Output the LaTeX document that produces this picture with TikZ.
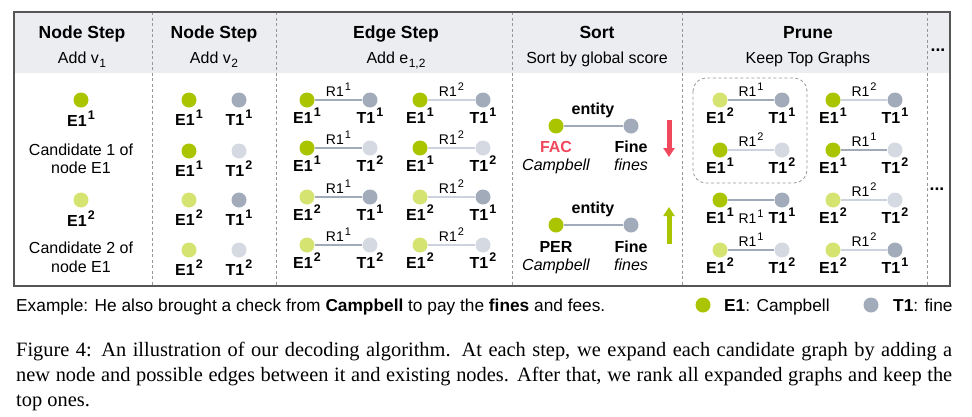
\documentclass[tikz,border=0pt]{standalone}
\usepackage{fontspec}
\setmainfont{Liberation Sans}
\newfontfamily\capfont{Liberation Serif}
\usetikzlibrary{arrows.meta}
\definecolor{cEa}{RGB}{170,196,0}
\definecolor{cEb}{RGB}{213,227,112}
\definecolor{cTa}{RGB}{162,171,185}
\definecolor{cTb}{RGB}{212,217,226}
\definecolor{cRa}{RGB}{160,170,184}
\definecolor{cRb}{RGB}{204,211,222}
\definecolor{cHead}{RGB}{236,237,241}
\definecolor{cRed}{RGB}{240,72,92}
\definecolor{cFrame}{RGB}{85,85,85}
\definecolor{cSep}{RGB}{150,150,150}
\newcommand\supx[1]{\kern1.2pt\raisebox{6.5pt}{\fontsize{12.5}{12.5}\selectfont #1}}
\newcommand\supr[1]{\kern1pt\raisebox{6pt}{\fontsize{11}{11}\selectfont #1}}
\newcommand\subx[1]{\kern0.5pt\raisebox{-4pt}{\fontsize{12}{12}\selectfont #1}}
\newcommand\gph[8]{%
  \node[dE#5] (#1e) at (#2,#4) {};
  \node[dT#6] (#1t) at (#3,#4) {};
  \draw[ln#7] (#1e) -- (#1t);
  \node[nlbl] (#1el) at (#2,#4+23) {E1\supx{#5}};
  \node[nlbl] (#1tl) at (#3,#4+23) {T1\supx{#6}};
  \node[rlbl] (#1r) at ({(#2+#3)/2},{#4#8}) {R1\supr{#7}};
}
\begin{document}
\begin{tikzpicture}[x=1pt,y=-1pt,
  dot/.style={circle,inner sep=0pt,minimum size=15pt},
  dE1/.style={dot,fill=cEa}, dE2/.style={dot,fill=cEb},
  dT1/.style={dot,fill=cTa}, dT2/.style={dot,fill=cTb},
  ln1/.style={draw=cRa,line width=2.2pt},
  ln2/.style={draw=cRb,line width=2.2pt},
  nlbl/.style={font=\bfseries\fontsize{16}{16}\selectfont,anchor=base,inner sep=0pt},
  rlbl/.style={font=\fontsize{14}{14}\selectfont,anchor=base,inner sep=0pt},
  hd/.style={font=\bfseries\fontsize{17.5}{17.5}\selectfont,anchor=base,inner sep=0pt},
  txt/.style={font=\fontsize{16}{16}\selectfont,anchor=base,inner sep=0pt},
  leg/.style={font=\fontsize{17.3}{17.3}\selectfont,anchor=base west,inner sep=0pt},
  itx/.style={font=\itshape\fontsize{16}{16}\selectfont,anchor=base,inner sep=0pt},
  sepl/.style={draw=cSep,dash pattern=on 3pt off 2.5pt,line width=0.7pt},
  arr/.style={line width=5pt,-{Triangle[width=11pt,length=9pt]}}
]
\useasboundingbox (0,0) rectangle (972,416);
% header band and frame
\fill[cHead] (14,12) rectangle (950,73);
\foreach \xx in {152,276,512,682,927} \draw[sepl] (\xx,12) -- (\xx,286);
\draw[cFrame,line width=1.2pt] (14,12) rectangle (950,286);
% headers
\node[hd] (h1) at (82,38) {Node Step};
\node[txt] (h1s) at (82,63.5) {Add v\subx{1}};
\node[hd] (h2) at (214,38) {Node Step};
\node[txt] (h2s) at (214,63.5) {Add v\subx{2}};
\node[hd] (h3) at (396,38) {Edge Step};
\node[txt] (h3s) at (396,63.5) {Add e\subx{1,2}};
\node[hd] (h4) at (597,38) {Sort};
\node[txt] (h4s) at (597,63.5) {Sort by global score};
\node[hd] (h5) at (808,38) {Prune};
\node[txt] (h5s) at (808,63.5) {Keep Top Graphs};
\node[hd] (h6) at (938,51) {...};
% column 1
\node[dE1] (c1a) at (81,100) {};
\node[nlbl] (c1al) at (81,126) {E1\supx{1}};
\node[txt] (c1t1) at (81,155) {Candidate 1 of};
\node[txt] (c1t2) at (81,173.5) {node E1};
\node[dE2] (c1b) at (81,200) {};
\node[nlbl] (c1bl) at (81,226) {E1\supx{2}};
\node[txt] (c1t3) at (81,253.5) {Candidate 2 of};
\node[txt] (c1t4) at (81,272) {node E1};
% column 2
\foreach \yy/\ee/\tt [count=\i] in {100/1/1,151/1/2,200/2/1,250/2/2}{
  \node[dE\ee] (c2e\i) at (189,\yy) {};
  \node[dT\tt] (c2t\i) at (239,\yy) {};
  \node[nlbl] (c2el\i) at (189,\yy+25) {E1\supx{\ee}};
  \node[nlbl] (c2tl\i) at (239,\yy+25) {T1\supx{\tt}};
}
% column 3
\gph{ga}{307}{370}{100}{1}{1}{1}{-4}
\gph{gb}{420}{483}{100}{1}{1}{2}{-4}
\gph{gc}{307}{370}{148}{1}{2}{1}{-4}
\gph{gd}{420}{483}{148}{1}{2}{2}{-4}
\gph{ge}{307}{370}{197}{2}{1}{1}{-4}
\gph{gf}{420}{483}{197}{2}{1}{2}{-4}
\gph{gg}{307}{370}{245}{2}{2}{1}{-4}
\gph{gh}{420}{483}{245}{2}{2}{2}{-4}
% column 4: sort
\node[dE1] (s1e) at (556,126) {};
\node[dT1] (s1t) at (631,126) {};
\draw[ln1] (s1e) -- (s1t);
\node[nlbl] (s1r) at (593,114) {entity};
\node[nlbl,text=cRed] (s1el) at (556,152) {FAC};
\node[itx] (s1en) at (556,170) {Campbell};
\node[nlbl] (s1tl) at (631,152) {Fine};
\node[itx] (s1tn) at (631,170) {fines};
\node[dE1] (s2e) at (556,225) {};
\node[dT1] (s2t) at (631,225) {};
\draw[ln1] (s2e) -- (s2t);
\node[nlbl] (s2r) at (593,213.5) {entity};
\node[nlbl] (s2el) at (556,252) {PER};
\node[itx] (s2en) at (556,270) {Campbell};
\node[nlbl] (s2tl) at (631,252) {Fine};
\node[itx] (s2tn) at (631,270) {fines};
\coordinate (dnA) at (669,120);
\coordinate (dnB) at (669,157);
\draw[arr,cRed] (dnA) -- (dnB);
\coordinate (upA) at (669,244);
\coordinate (upB) at (669,207);
\draw[arr,cEa] (upA) -- (upB);
% column 5: prune
\draw[cSep,dash pattern=on 3pt off 2.5pt,line width=0.8pt,rounded corners=13pt] (693,78) rectangle (807,183);
\gph{pa}{720}{782}{100}{2}{1}{1}{-4}
\gph{pb}{833}{895}{100}{1}{1}{2}{-4}
\gph{pc}{720}{782}{150}{1}{2}{2}{-4}
\gph{pd}{833}{895}{150}{1}{2}{1}{-4}
\gph{pe}{720}{782}{200}{1}{1}{1}{+23}
\gph{pf}{833}{895}{200}{2}{2}{2}{-4}
\gph{pg}{720}{782}{250}{2}{2}{1}{-4}
\gph{ph}{833}{895}{250}{2}{1}{2}{-4}
\node[hd] (more) at (937,190) {...};
% legend
\node[leg] (ex) at (16,311) {Example: He also brought a check from \textbf{Campbell} to pay the \textbf{fines} and fees.};
\node[dE1] (legE) at (703,305) {};
\node[leg] (legEt) at (724,311) {\textbf{E1}: Campbell};
\node[dT1] (legT) at (871,305) {};
\node[leg] (legTt) at (893,311) {\textbf{T1}: fine};
% caption
\node[anchor=base west,inner sep=0pt] (cap) at (16,356) {\parbox[t]{936pt}{\capfont\fontsize{20.4}{25.3}\selectfont Figure 4: An illustration of our decoding algorithm. At each step, we expand each candidate graph by adding a\linebreak new node and possible edges between it and existing nodes. After that, we rank all expanded graphs and keep the\linebreak top ones.}};
\end{tikzpicture}
\end{document}
